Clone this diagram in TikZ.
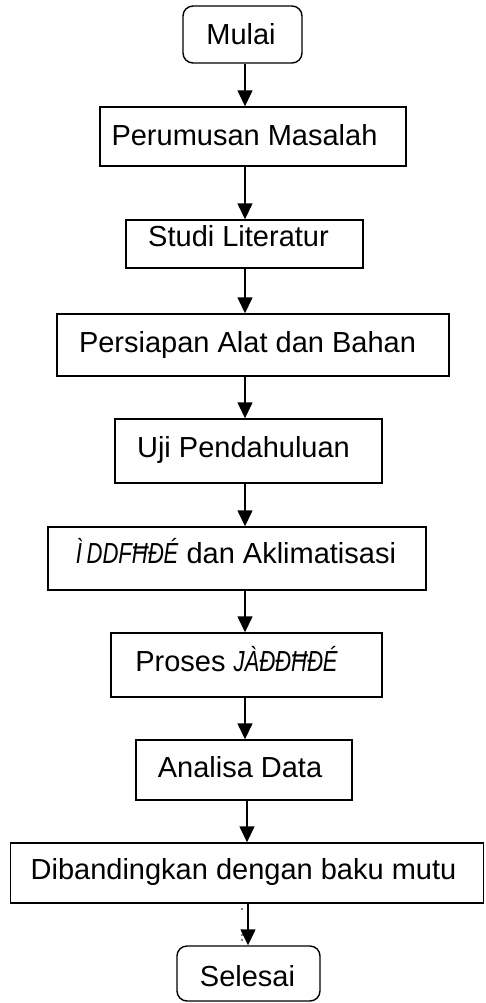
\documentclass[tikz,border=0pt]{standalone}
\usepackage{fontspec}
\setmainfont{Liberation Sans}
\usepackage{graphicx}
\usetikzlibrary{arrows.meta}
\tikzset{
  boxn/.style={draw, line width=1.4pt, inner sep=0pt},
  termn/.style={boxn, rounded corners=10pt},
  txt/.style={anchor=base, inner sep=0pt, font=\fontsize{29}{35}\selectfont},
  arr/.style={line width=1.4pt, -{Triangle[width=15pt,length=16pt]}}
}
\newcommand{\garb}[1]{\scalebox{0.76}[1]{\itshape #1}}
\begin{document}
\begin{tikzpicture}[x=1pt,y=-1pt]
\useasboundingbox (0,0) rectangle (485,1003);
% boxes
\node[termn, minimum width=119pt, minimum height=57pt] (mulai) at (242.5,34.5) {};
\node[boxn, minimum width=306pt, minimum height=59pt] (perum) at (253,136.5) {};
\node[boxn, minimum width=237pt, minimum height=48pt] (studi) at (244.5,244) {};
\node[boxn, minimum width=392pt, minimum height=62pt] (persi) at (253,345) {};
\node[boxn, minimum width=267pt, minimum height=64pt] (uji) at (248.5,451) {};
\node[boxn, minimum width=378pt, minimum height=63pt] (aklim) at (237,558.5) {};
\node[boxn, minimum width=271pt, minimum height=64pt] (proses) at (246.5,665) {};
\node[boxn, minimum width=216pt, minimum height=60pt] (anal) at (244,770) {};
\node[boxn, minimum width=473pt, minimum height=60pt] (banding) at (247,873) {};
\node[termn, minimum width=143pt, minimum height=55pt] (selesai) at (248.5,973.5) {};
% texts
\node[txt] (t1) at (241,45) {Mulai};
\node[txt] (t2) at (244.5,146) {Perumusan Masalah};
\node[txt] (t3) at (238.5,246) {Studi Literatur};
\node[txt] (t4) at (247.5,352) {Persiapan Alat dan Bahan};
\node[txt] (t5) at (243.5,457) {Uji Pendahuluan};
\node[txt] (t6) at (236,563) {\garb{Ì\hspace{6pt}DDFĦĐÉ} dan Aklimatisasi};
\node[txt] (t7) at (236.5,671) {Proses \garb{JÀĐĐĦĐÉ}};
\node[txt] (t8) at (240,777) {Analisa Data};
\node[txt] (t9) at (243.5,879) {Dibandingkan dengan baku mutu};
\node[txt] (t10) at (247.5,986) {Selesai};
% arrow columns
\coordinate (ca) at (245,0);
\coordinate (cb) at (247,0);
\coordinate (cc) at (248,0);
\draw[arr] (mulai.south -| ca) -- (perum.north -| ca);
\draw[arr] (perum.south -| ca) -- (studi.north -| ca);
\draw[arr] (studi.south -| ca) -- (persi.north -| ca);
\draw[arr] (persi.south -| ca) -- (uji.north -| ca);
\draw[arr] (uji.south -| ca) -- (aklim.north -| ca);
\draw[arr] (aklim.south -| ca) -- (proses.north -| ca);
\draw[arr] (proses.south -| ca) -- (anal.north -| ca);
\draw[arr] (anal.south -| cb) -- (banding.north -| cb);
\draw[arr] (banding.south -| cc) -- (selesai.north -| cc);
% stray dots
\fill (242,909) circle (0.9);
\fill (242,935) circle (0.9);
\fill (242,940) circle (0.9);
\end{tikzpicture}
\end{document}
